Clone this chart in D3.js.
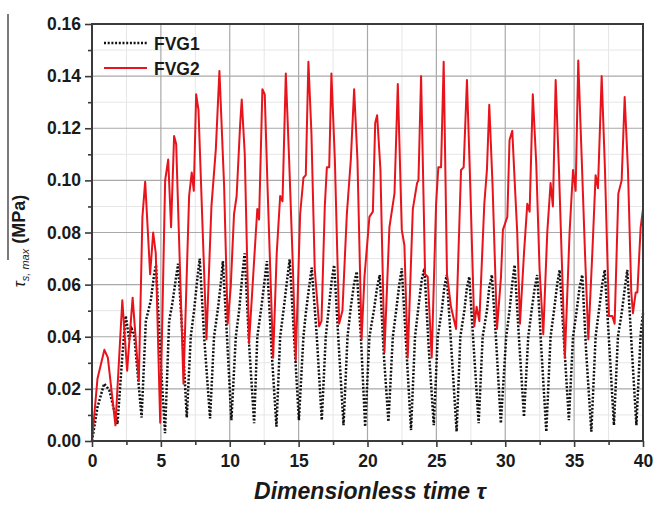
<!DOCTYPE html>
<html>
<head>
<meta charset="utf-8">
<script src="https://cdn.jsdelivr.net/npm/d3@7"></script>
<style>
  html, body { margin: 0; padding: 0; background: #fff; }
  svg { display: block; font-family: "Liberation Sans", Arial, sans-serif; }
</style>
</head>
<body>
<svg id="chart" width="657" height="506"></svg>
<script>
// ---- data ----
const seriesNames = ["FVG1", "FVG2"];
const xTicks = [0, 5, 10, 15, 20, 25, 30, 35, 40];
const yTicks = [0, 0.02, 0.04, 0.06, 0.08, 0.10, 0.12, 0.14, 0.16];

// FVG1 (black dotted): [tau, stress]
const fvg1 = [
  [0,0],[0.4,0.013],[0.88,0.022],[1.25,0.0196],[1.85,0.0065],[2.22,0.034],[2.45,0.048],[2.7,0.039],
  [2.89,0.043],[3.06,0.041],[3.6,0.009],[3.91,0.046],[4.27,0.054],[4.51,0.064],[4.65,0.0675],[4.95,0.034],
  [5.3,0.003],[5.6,0.046],[5.84,0.053],[6.08,0.062],[6.25,0.068],[6.57,0.040],[6.88,0.009],[7.17,0.040],
  [7.41,0.050],[7.66,0.063],[7.82,0.070],[8.14,0.040],[8.57,0.0087],[8.86,0.040],[9.16,0.0515],[9.35,0.0605],
  [9.5,0.069],[9.8,0.040],[10.12,0.008],[10.44,0.040],[10.68,0.050],[10.92,0.064],[11.08,0.072],[11.4,0.0375],
  [11.77,0.0068],[12.0,0.040],[12.3,0.0515],[12.54,0.062],[12.7,0.069],[13.05,0.0336],[13.39,0.0055],[13.66,0.040],
  [13.9,0.050],[14.19,0.063],[14.35,0.0697],[14.67,0.040],[15.02,0.008],[15.35,0.040],[15.52,0.049],[15.76,0.059],
  [15.95,0.0665],[16.32,0.040],[16.68,0.008],[16.97,0.040],[17.17,0.050],[17.41,0.062],[17.58,0.0675],[17.89,0.0387],
  [18.26,0.0061],[18.55,0.040],[18.79,0.0515],[19.03,0.0605],[19.22,0.065],[19.52,0.040],[19.83,0.0055],[20.14,0.040],
  [20.46,0.050],[20.7,0.059],[20.89,0.0637],[21.18,0.0336],[21.52,0.0074],[21.84,0.040],[22.08,0.050],[22.32,0.0605],
  [22.49,0.0662],[22.8,0.0375],[23.16,0.0042],[23.45,0.040],[23.7,0.0515],[23.94,0.062],[24.13,0.0662],[24.44,0.036],
  [24.81,0.0061],[25.1,0.040],[25.39,0.050],[25.58,0.059],[25.75,0.0637],[26.11,0.0336],[26.47,0.0036],[26.74,0.040],
  [27.03,0.050],[27.22,0.059],[27.39,0.063],[27.71,0.036],[28.07,0.0068],[28.36,0.040],[28.67,0.050],[28.84,0.059],
  [29.03,0.0637],[29.32,0.040],[29.68,0.0068],[30.07,0.040],[30.31,0.050],[30.51,0.0605],[30.68,0.0675],[30.99,0.040],
  [31.36,0.0093],[31.67,0.040],[31.91,0.050],[32.15,0.059],[32.32,0.0637],[32.64,0.0336],[32.98,0.0036],[33.29,0.040],
  [33.54,0.050],[33.78,0.0605],[33.95,0.0656],[34.26,0.0387],[34.62,0.008],[34.92,0.040],[35.16,0.049],[35.4,0.059],
  [35.59,0.0637],[35.88,0.0336],[36.25,0.0036],[36.56,0.040],[36.8,0.050],[37.05,0.0605],[37.22,0.0656],[37.53,0.0387],
  [37.89,0.0061],[38.18,0.040],[38.45,0.049],[38.69,0.059],[38.86,0.0656],[39.18,0.036],[39.52,0.0061],[39.83,0.041],
  [40,0.049]
];

// FVG2 (red solid): [tau, stress]
const fvg2 = [
  [0,0],[0.4,0.024],[0.9,0.035],[1.15,0.032],[1.7,0.006],[2.2,0.054],[2.55,0.027],[2.95,0.055],[3.4,0.023],
  [3.66,0.086],[3.86,0.0995],[4.22,0.064],[4.44,0.080],[4.63,0.072],[4.95,0.007],[5.31,0.100],[5.53,0.108],
  [5.74,0.082],[5.96,0.117],[6.11,0.114],[6.64,0.022],[7.05,0.094],[7.24,0.103],[7.39,0.096],[7.56,0.133],
  [7.73,0.127],[8.31,0.039],[8.67,0.090],[8.99,0.112],[9.25,0.142],[9.59,0.098],[9.85,0.045],[10.07,0.059],
  [10.31,0.087],[10.5,0.094],[10.75,0.121],[10.87,0.131],[11.09,0.110],[11.4,0.0375],[11.65,0.059],[12.0,0.089],
  [12.13,0.085],[12.37,0.135],[12.54,0.133],[12.74,0.098],[13.15,0.032],[13.41,0.072],[13.66,0.094],[13.83,0.092],
  [14.07,0.141],[14.31,0.108],[14.55,0.072],[14.79,0.031],[15.11,0.087],[15.35,0.101],[15.52,0.102],[15.71,0.1455],
  [15.93,0.118],[16.17,0.066],[16.49,0.044],[16.66,0.046],[16.9,0.090],[17.05,0.105],[17.22,0.105],[17.38,0.141],
  [17.63,0.108],[17.94,0.045],[18.18,0.050],[18.5,0.087],[18.79,0.108],[19.03,0.135],[19.27,0.108],[19.57,0.039],
  [19.78,0.063],[20.14,0.086],[20.39,0.088],[20.56,0.122],[20.7,0.125],[20.94,0.104],[21.23,0.034],[21.59,0.082],
  [21.96,0.095],[22.2,0.137],[22.49,0.081],[22.68,0.075],[22.92,0.032],[23.29,0.089],[23.6,0.099],[23.7,0.100],
  [23.89,0.140],[24.18,0.064],[24.37,0.063],[24.66,0.032],[24.98,0.091],[25.14,0.105],[25.34,0.105],[25.53,0.1455],
  [25.77,0.064],[26.06,0.0515],[26.43,0.043],[26.79,0.104],[26.98,0.105],[27.22,0.1385],[27.46,0.098],[27.75,0.044],
  [27.92,0.0515],[28.12,0.046],[28.48,0.091],[28.67,0.104],[28.84,0.129],[29.08,0.098],[29.4,0.043],[29.69,0.063],
  [29.83,0.081],[30.15,0.086],[30.31,0.1155],[30.51,0.119],[30.7,0.098],[30.87,0.080],[31.07,0.045],[31.36,0.072],
  [31.6,0.091],[31.77,0.088],[32.0,0.133],[32.25,0.1065],[32.49,0.066],[32.76,0.041],[33.05,0.080],[33.29,0.099],
  [33.46,0.090],[33.66,0.1385],[33.9,0.104],[34.09,0.072],[34.33,0.032],[34.67,0.080],[34.92,0.104],[35.11,0.096],
  [35.3,0.146],[35.54,0.110],[35.79,0.072],[36.03,0.039],[36.32,0.072],[36.56,0.102],[36.73,0.097],[37.0,0.140],
  [37.24,0.104],[37.53,0.048],[37.77,0.048],[37.94,0.045],[38.21,0.095],[38.45,0.100],[38.67,0.132],[38.91,0.104],
  [39.15,0.057],[39.27,0.049],[39.47,0.057],[39.59,0.057],[39.83,0.082],[40,0.089]
];

(function () {
// ---- layout ----
const svg = d3.select("#chart");
const pL = 92, pR = 643, pT = 24, pB = 441;
const x = d3.scaleLinear().domain([0, 40]).range([pL, pR]);
const y = d3.scaleLinear().domain([0, 0.16]).range([pB, pT]);

const xMinor = d3.range(2.5, 40, 5);
const yMinor = d3.range(0.01, 0.16, 0.02);

// minor grid
const g = svg.append("g");
g.selectAll(".vmin").data(xMinor).join("line")
  .attr("x1", d => x(d)).attr("x2", d => x(d)).attr("y1", pT).attr("y2", pB)
  .attr("stroke", "#e6e6e6").attr("stroke-width", 1);
g.selectAll(".hmin").data(yMinor).join("line")
  .attr("y1", d => y(d)).attr("y2", d => y(d)).attr("x1", pL).attr("x2", pR)
  .attr("stroke", "#e6e6e6").attr("stroke-width", 1);
// major grid
g.selectAll(".vmaj").data(xTicks.slice(1, -1)).join("line")
  .attr("x1", d => x(d)).attr("x2", d => x(d)).attr("y1", pT).attr("y2", pB)
  .attr("stroke", "#a9a9a9").attr("stroke-width", 1.2);
g.selectAll(".hmaj").data(yTicks.slice(1, -1)).join("line")
  .attr("y1", d => y(d)).attr("y2", d => y(d)).attr("x1", pL).attr("x2", pR)
  .attr("stroke", "#a9a9a9").attr("stroke-width", 1.2);

// series
const line = d3.line().x(d => x(d[0])).y(d => y(d[1]));
svg.append("path").datum(fvg1).attr("d", line)
  .attr("fill", "none").attr("stroke", "#111").attr("stroke-width", 2.5)
  .attr("stroke-dasharray", "2,1.7");
svg.append("path").datum(fvg2).attr("d", line)
  .attr("fill", "none").attr("stroke", "#e8141c").attr("stroke-width", 2)
  .attr("stroke-linejoin", "round");

// frame
svg.append("rect").attr("x", pL).attr("y", pT).attr("width", pR - pL).attr("height", pB - pT)
  .attr("fill", "none").attr("stroke", "#3a3a3a").attr("stroke-width", 2);

// axes
const xAxis = svg.append("g").attr("transform", `translate(0,${pB})`)
  .call(d3.axisBottom(x).tickValues(xTicks).tickSize(6).tickPadding(5).tickFormat(d3.format("d")));
svg.append("g").attr("transform", `translate(0,${pB})`)
  .call(d3.axisBottom(x).tickValues(xMinor).tickSize(4).tickFormat(""));
svg.append("g").attr("transform", `translate(${pL},0)`)
  .call(d3.axisLeft(y).tickValues(yTicks).tickSize(7).tickPadding(4).tickFormat(d3.format(".2f")));
svg.append("g").attr("transform", `translate(${pL},0)`)
  .call(d3.axisLeft(y).tickValues(yMinor).tickSize(4).tickFormat(""));

svg.selectAll(".domain").remove();
svg.selectAll(".tick line").attr("stroke", "#3a3a3a").attr("stroke-width", 1.6);
svg.selectAll(".tick text").attr("fill", "#1a1a1a")
  .style("font-family", "'Liberation Sans', Arial, sans-serif")
  .style("font-weight", "bold").style("font-size", "17.5px");
xAxis.selectAll(".tick text").attr("dy", "0.85em");

// legend
const legend = svg.append("g");
const legendItems = [
  { name: seriesNames[0], y: 43, stroke: "#111", dash: "2,1.7", w: 2.5 },
  { name: seriesNames[1], y: 68, stroke: "#e8141c", dash: null, w: 2 }
];
legendItems.forEach(it => {
  legend.append("line").attr("x1", 104).attr("x2", 147).attr("y1", it.y).attr("y2", it.y)
    .attr("stroke", it.stroke).attr("stroke-width", it.w).attr("stroke-dasharray", it.dash);
  legend.append("text").attr("x", 154).attr("y", it.y + 6.5).text(it.name)
    .attr("fill", "#1a1a1a").style("font-weight", "bold").style("font-size", "17.5px");
});

// x label
svg.append("text").attr("x", 370).attr("y", 499).attr("text-anchor", "middle")
  .style("font-weight", "bold").style("font-style", "italic").style("font-size", "23px")
  .attr("fill", "#1a1a1a").text("Dimensionless time τ");

// y label
const yl = svg.append("text")
  .attr("transform", "translate(25,241) rotate(-90)")
  .attr("text-anchor", "middle").attr("fill", "#1a1a1a");
yl.append("tspan").style("font-style", "italic").style("font-size", "16px").text("τ");
yl.append("tspan").style("font-style", "italic").style("font-size", "11px").attr("dy", 4).text("s, max");
yl.append("tspan").style("font-weight", "bold").style("font-size", "18px").attr("dy", -4).text(" (MPa)");

// overline mark on the y label
svg.append("line").attr("x1", 8).attr("x2", 8).attr("y1", 14).attr("y2", 260)
  .attr("stroke", "#222").attr("stroke-width", 1.2);
})();
</script>
</body>
</html>
